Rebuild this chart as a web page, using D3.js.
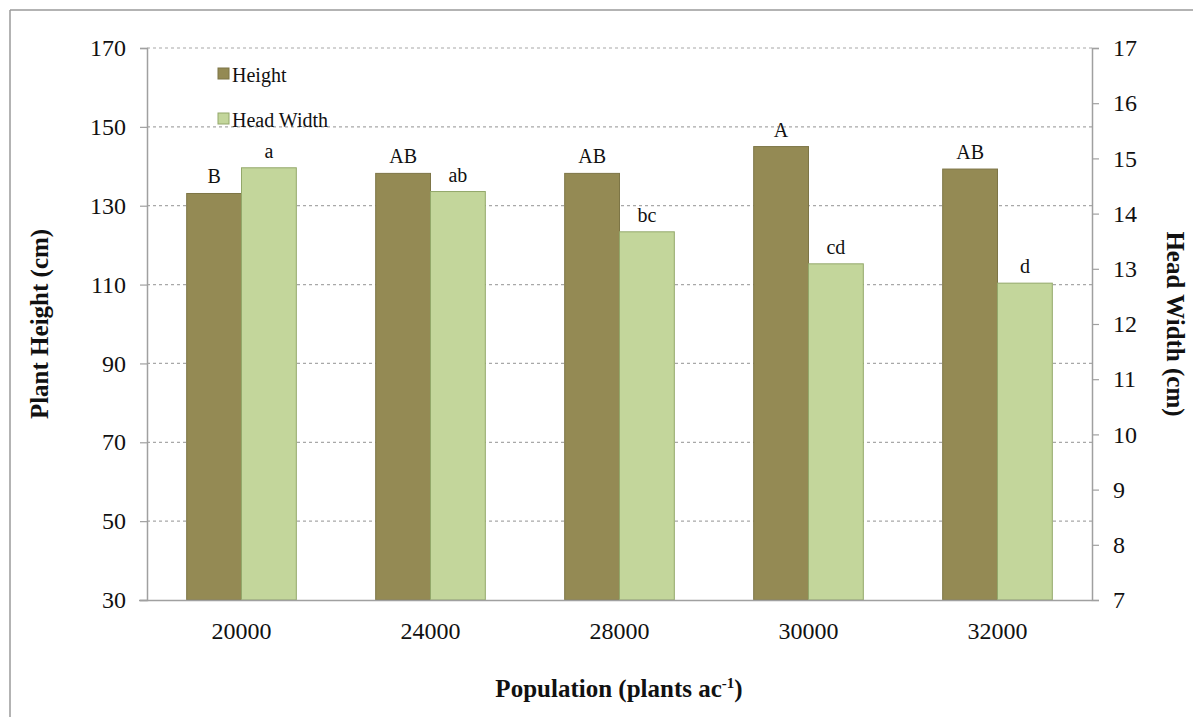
<!DOCTYPE html>
<html><head><meta charset="utf-8">
<script src="https://cdn.jsdelivr.net/npm/d3@7/dist/d3.min.js"></script>
<style>
html,body{margin:0;padding:0;background:#fff;}
svg{display:block;}
svg text{font-family:"Liberation Serif","Times New Roman",serif !important;}
</style></head>
<body>
<svg id="chart" width="1193" height="717"></svg>
<script>
const categories = ["20000","24000","28000","30000","32000"];
const heightValues = [133.1, 138.2, 138.2, 145.0, 139.3];
const headWidthValues = [14.83, 14.40, 13.67, 13.09, 12.74];
const heightLetters = ["B","AB","AB","A","AB"];
const headWidthLetters = ["a","ab","bc","cd","d"];
const leftTicks = [30,50,70,90,110,130,150,170];
const rightTicks = [7,8,9,10,11,12,13,14,15,16,17];
const seriesNames = ["Height","Head Width"];

const colH = "#948a54", colW = "#c3d69b";
const svg = d3.select("#chart");
const m = {l:147, r:1092, t:48, b:600};

// outer frame (left & top)
svg.append("line").attr("x1",10).attr("x2",10).attr("y1",10).attr("y2",717).attr("stroke","#9a9a9a").attr("stroke-width",1.5);
svg.append("line").attr("x1",10).attr("x2",1193).attr("y1",10).attr("y2",10).attr("stroke","#9a9a9a").attr("stroke-width",1.5);

const x = d3.scaleBand().domain(categories).range([m.l,m.r]).paddingInner(0.42).paddingOuter(0.21);
const x1 = d3.scaleBand().domain(seriesNames).range([0,x.bandwidth()]);
const yL = d3.scaleLinear().domain([30,170]).range([m.b,m.t]);
const yR = d3.scaleLinear().domain([7,17]).range([m.b,m.t]);

// gridlines
svg.append("g").selectAll("line").data(leftTicks.filter(d=>d>30)).join("line")
  .attr("x1",m.l).attr("x2",m.r).attr("y1",d=>yL(d)).attr("y2",d=>yL(d))
  .attr("stroke","#a8a8a8").attr("stroke-width",1.2).attr("stroke-dasharray","3,3");

// bars
const g = svg.append("g");
g.selectAll("rect.h").data(heightValues).join("rect").attr("class","h")
  .attr("x",(d,i)=>x(categories[i])+x1("Height")).attr("width",x1.bandwidth())
  .attr("y",d=>yL(d)).attr("height",d=>yL(30)-yL(d))
  .attr("fill",colH).attr("stroke","#7d7546").attr("stroke-width",1);
g.selectAll("rect.w").data(headWidthValues).join("rect").attr("class","w")
  .attr("x",(d,i)=>x(categories[i])+x1("Head Width")).attr("width",x1.bandwidth())
  .attr("y",d=>yR(d)).attr("height",d=>yR(7)-yR(d))
  .attr("fill",colW).attr("stroke","#93a86a").attr("stroke-width",1);

// letters
g.selectAll("text.hl").data(heightLetters).join("text").attr("class","hl")
  .attr("x",(d,i)=>x(categories[i])+x1("Height")+x1.bandwidth()/2)
  .attr("y",(d,i)=>yL(heightValues[i])-10)
  .attr("text-anchor","middle").attr("font-size",20).attr("fill","#111").text(d=>d);
g.selectAll("text.wl").data(headWidthLetters).join("text").attr("class","wl")
  .attr("x",(d,i)=>x(categories[i])+x1("Head Width")+x1.bandwidth()/2)
  .attr("y",(d,i)=>yR(headWidthValues[i])-10)
  .attr("text-anchor","middle").attr("font-size",20).attr("fill","#111").text(d=>d);

// axes
const axL = svg.append("g").attr("transform",`translate(${m.l},0)`)
  .call(d3.axisLeft(yL).tickValues(leftTicks).tickSize(7).tickPadding(14));
const axR = svg.append("g").attr("transform",`translate(${m.r},0)`)
  .call(d3.axisRight(yR).tickValues(rightTicks).tickSize(7).tickPadding(14));
const axB = svg.append("g").attr("transform",`translate(0,${m.b})`)
  .call(d3.axisBottom(x).tickSize(0).tickPadding(22));
[axL,axR,axB].forEach(a=>{
  a.selectAll("path.domain").attr("stroke","#a0a0a0").attr("stroke-width",1.5);
  a.selectAll(".tick line").attr("stroke","#a0a0a0").attr("stroke-width",1.2);
  a.selectAll("text").style("font-size","24px").attr("fill","#111");
});
axB.select("path.domain").attr("d",`M${m.l-8},0.5H${m.r}`);
axB.selectAll(".tick text").attr("dy","0.71em");

// titles
svg.append("text").attr("transform","translate(48,324) rotate(-90)")
  .attr("text-anchor","middle").attr("font-size",25).attr("font-weight","bold").attr("fill","#111")
  .text("Plant Height (cm)");
svg.append("text").attr("transform","translate(1167,324) rotate(90)")
  .attr("text-anchor","middle").attr("font-size",25).attr("font-weight","bold").attr("fill","#111")
  .text("Head Width (cm)");
const xt = svg.append("text").attr("x",619).attr("y",697).attr("text-anchor","middle")
  .attr("font-size",25).attr("font-weight","bold").attr("fill","#111");
xt.append("tspan").text("Population (plants ac");
xt.append("tspan").attr("font-size",15).attr("dy",-9).text("-1");
xt.append("tspan").attr("dy",9).text(")");

// legend
const leg = svg.append("g");
const legColors = [colH,colW];
const legStroke = ["#7d7546","#93a86a"];
seriesNames.forEach((s,i)=>{
  const yy = 82 + i*45;
  leg.append("rect").attr("x",218).attr("y",yy-14).attr("width",11).attr("height",11)
    .attr("fill",legColors[i]).attr("stroke",legStroke[i]);
  leg.append("text").attr("x",232).attr("y",yy).attr("font-size",20).attr("fill","#111").text(s);
});
</script>
</body></html>
